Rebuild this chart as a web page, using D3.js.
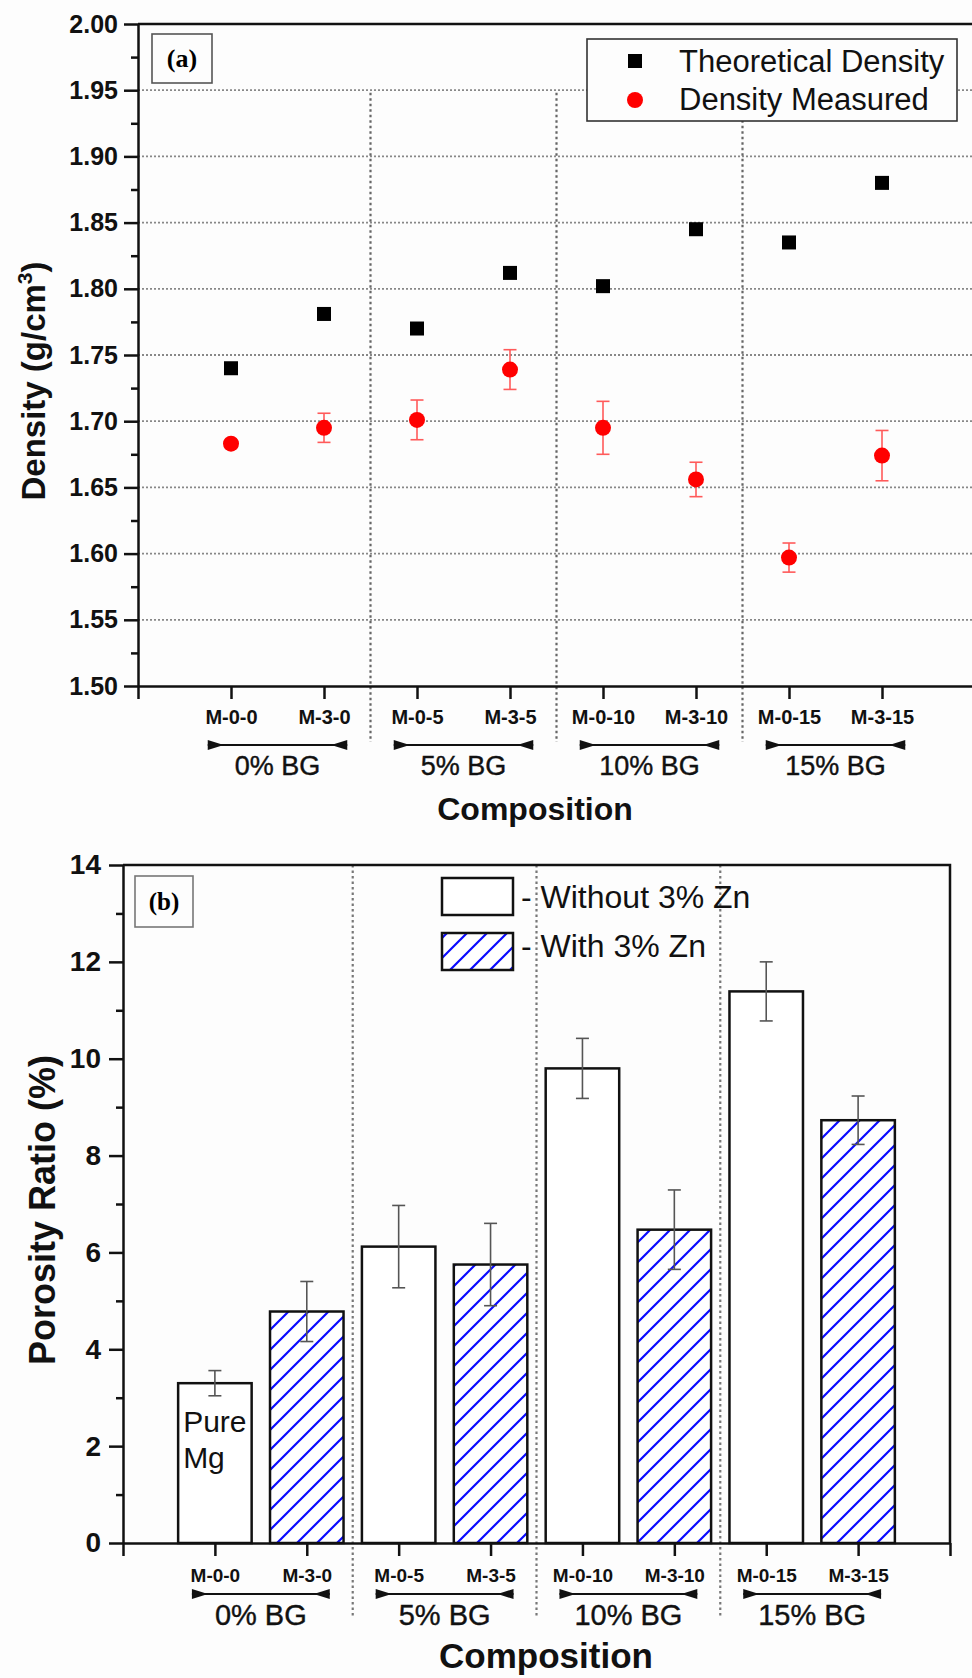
<!DOCTYPE html>
<html>
<head>
<meta charset="utf-8">
<script src="https://cdn.jsdelivr.net/npm/d3@7"></script>
<style>
  body { margin: 0; background: #fdfdfd; }
  svg { display: block; font-family: "Liberation Sans", Arial, sans-serif; }
</style>
</head>
<body>
<div id="chart"></div>
<script>
// composition labels and BG groups
const categories = ["M-0-0", "M-3-0", "M-0-5", "M-3-5", "M-0-10", "M-3-10", "M-0-15", "M-3-15"];
const groups = ["0% BG", "5% BG", "10% BG", "15% BG"];

// panel (a) - density
const theoreticalDensity = [1.740, 1.781, 1.770, 1.812, 1.802, 1.845, 1.835, 1.880];
const measuredDensity = [1.683, 1.695, 1.701, 1.739, 1.695, 1.656, 1.597, 1.674];
const measuredErr = [0.003, 0.011, 0.015, 0.015, 0.020, 0.013, 0.011, 0.019];
const densityTicks = [1.50, 1.55, 1.60, 1.65, 1.70, 1.75, 1.80, 1.85, 1.90, 1.95, 2.00];
const densityMinor = [1.525, 1.575, 1.625, 1.675, 1.725, 1.775, 1.825, 1.875, 1.925, 1.975];
const densityGrid = [1.55, 1.60, 1.65, 1.70, 1.75, 1.80, 1.85, 1.90, 1.95];

// panel (b) - porosity
const porosity = [3.30, 4.78, 6.12, 5.75, 9.80, 6.47, 11.39, 8.73];
const porosityErr = [0.26, 0.62, 0.85, 0.85, 0.62, 0.82, 0.61, 0.50];
const porosityTicks = [0, 2, 4, 6, 8, 10, 12, 14];
const porosityMinor = [1, 3, 5, 7, 9, 11, 13];

const width = 972, height = 1678;

const svg = d3.select("#chart").append("svg")
  .attr("width", width)
  .attr("height", height);

// hatch for the "with 3% Zn" bars
const pat = svg.append("defs").append("pattern")
  .attr("id", "hatch")
  .attr("patternUnits", "userSpaceOnUse")
  .attr("width", 20).attr("height", 20);
pat.append("rect").attr("width", 20).attr("height", 20).attr("fill", "#fff");
pat.append("path")
  .attr("d", "M-5,5 L5,-5 M0,20 L20,0 M15,25 L25,15")
  .attr("stroke", "#0a0aff")
  .attr("stroke-width", 2.2);

function styleAxis(g, fontSize) {
  g.select(".domain").attr("stroke", "#111").attr("stroke-width", 2.5);
  g.selectAll(".tick line").attr("stroke", "#111").attr("stroke-width", 2.5);
  g.selectAll(".tick text")
    .attr("fill", "#111")
    .style("font-size", fontSize + "px")
    .style("font-weight", "bold");
}

function drawXAxis(x, yPos, labelY, fontSize) {
  const g = svg.append("g")
    .attr("transform", "translate(0," + yPos + ")")
    .call(d3.axisBottom(x)
      .tickValues(d3.range(0, 10))
      .tickSize(13)
      .tickSizeOuter(0)
      .tickFormat(i => (i >= 1 && i <= 8) ? categories[i - 1] : ""));
  styleAxis(g, fontSize);
  g.selectAll(".tick text").attr("y", labelY).attr("dy", "0");
  return g;
}

function drawYAxis(y, xPos, major, minor, fmt, fontSize, labelX) {
  const g = svg.append("g")
    .attr("transform", "translate(" + xPos + ",0)")
    .call(d3.axisLeft(y).tickValues(major).tickSize(14).tickSizeOuter(0).tickFormat(fmt));
  styleAxis(g, fontSize);
  g.selectAll(".tick text").attr("x", labelX);
  const gm = svg.append("g")
    .attr("transform", "translate(" + xPos + ",0)")
    .call(d3.axisLeft(y).tickValues(minor).tickSize(7).tickFormat(""));
  gm.select(".domain").remove();
  gm.selectAll(".tick line").attr("stroke", "#111").attr("stroke-width", 2.5);
}

function drawGroups(x, arrowY, labelY, fontSize) {
  groups.forEach((name, gi) => {
    const x0 = x(2 * gi + 1 - 0.25), x1 = x(2 * gi + 2 + 0.25);
    svg.append("line")
      .attr("x1", x0).attr("x2", x1)
      .attr("y1", arrowY).attr("y2", arrowY)
      .attr("stroke", "#111").attr("stroke-width", 2);
    svg.append("path")
      .attr("d", "M" + x0 + "," + (arrowY - 5) + " L" + (x0 + 16) + "," + arrowY + " L" + x0 + "," + (arrowY + 5) + "Z" +
                 "M" + x1 + "," + (arrowY - 5) + " L" + (x1 - 16) + "," + arrowY + " L" + x1 + "," + (arrowY + 5) + "Z")
      .attr("fill", "#111");
    svg.append("text")
      .attr("x", (x(2 * gi + 1) + x(2 * gi + 2)) / 2)
      .attr("y", labelY)
      .attr("text-anchor", "middle")
      .style("font-size", fontSize + "px")
      .attr("fill", "#111")
      .attr("stroke", "#111").attr("stroke-width", 0.4)
      .text(name);
  });
}

function drawSeparators(x, y0, y1, color) {
  svg.append("g").selectAll("line")
    .data([2.5, 4.5, 6.5])
    .join("line")
    .attr("x1", d => x(d)).attr("x2", d => x(d))
    .attr("y1", y0).attr("y2", y1)
    .attr("stroke", color)
    .attr("stroke-width", 2.2)
    .attr("stroke-dasharray", "2.5,3");
}

// ---------------- panel (a) ----------------
function drawDensity() {
  const x = d3.scaleLinear().domain([0, 9]).range([138, 975]);
  const y = d3.scaleLinear().domain([1.5, 2.0]).range([686, 24]);

  // horizontal grid
  svg.append("g").selectAll("line")
    .data(densityGrid)
    .join("line")
    .attr("x1", x(0)).attr("x2", x(9))
    .attr("y1", d => y(d)).attr("y2", d => y(d))
    .attr("stroke", "#888")
    .attr("stroke-width", 1.8)
    .attr("stroke-dasharray", "2,2");

  drawSeparators(x, y(1.948), 742, "#666");

  // frame
  svg.append("path")
    .attr("d", "M" + x(0) + "," + y(2.0) + " H" + x(9) + " V" + y(1.5))
    .attr("fill", "none").attr("stroke", "#111").attr("stroke-width", 2.5);

  drawYAxis(y, x(0), densityTicks, densityMinor, d3.format(".2f"), 25, -20);
  drawXAxis(x, y(1.5), 38, 20);
  drawGroups(x, 745, 775, 27);

  // error bars
  const eb = svg.append("g").attr("stroke", "#ff5a5a").attr("stroke-width", 1.6);
  measuredDensity.forEach((v, i) => {
    const cx = x(i + 1), top = y(v + measuredErr[i]), bot = y(v - measuredErr[i]);
    eb.append("line").attr("x1", cx).attr("x2", cx).attr("y1", top).attr("y2", bot);
    eb.append("line").attr("x1", cx - 6.5).attr("x2", cx + 6.5).attr("y1", top).attr("y2", top);
    eb.append("line").attr("x1", cx - 6.5).attr("x2", cx + 6.5).attr("y1", bot).attr("y2", bot);
  });

  svg.append("g").selectAll("circle")
    .data(measuredDensity)
    .join("circle")
    .attr("cx", (d, i) => x(i + 1))
    .attr("cy", d => y(d))
    .attr("r", 8)
    .attr("fill", "#ff0000");

  svg.append("g").selectAll("rect")
    .data(theoreticalDensity)
    .join("rect")
    .attr("x", (d, i) => x(i + 1) - 7)
    .attr("y", d => y(d) - 7)
    .attr("width", 14).attr("height", 14)
    .attr("fill", "#000");

  // legend
  const lg = svg.append("g");
  lg.append("rect").attr("x", 587).attr("y", 39).attr("width", 370).attr("height", 82)
    .attr("fill", "#fdfdfd").attr("stroke", "#333").attr("stroke-width", 1.6);
  lg.append("rect").attr("x", 628).attr("y", 54).attr("width", 14).attr("height", 14).attr("fill", "#000");
  lg.append("circle").attr("cx", 635).attr("cy", 100).attr("r", 8).attr("fill", "#ff0000");
  lg.append("text").attr("x", 679).attr("y", 72).style("font-size", "31px").attr("fill", "#111").text("Theoretical Density");
  lg.append("text").attr("x", 679).attr("y", 110).style("font-size", "31px").attr("fill", "#111").text("Density Measured");

  // panel tag
  svg.append("rect").attr("x", 152).attr("y", 34).attr("width", 60).attr("height", 49)
    .attr("fill", "#fdfdfd").attr("stroke", "#555").attr("stroke-width", 1.6);
  svg.append("text").attr("x", 182).attr("y", 67).attr("text-anchor", "middle")
    .style("font-family", "'Liberation Serif', 'Times New Roman', serif")
    .style("font-size", "26px").style("font-weight", "bold").text("(a)");

  // axis titles
  const yl = svg.append("text")
    .attr("transform", "translate(45,381) rotate(-90)")
    .attr("text-anchor", "middle")
    .style("font-size", "33px").style("font-weight", "bold").attr("fill", "#111");
  yl.append("tspan").text("Density (g/cm");
  yl.append("tspan").attr("dy", -13).style("font-size", "21px").text("3");
  yl.append("tspan").attr("dy", 13).text(")");

  svg.append("text").attr("x", 535).attr("y", 820).attr("text-anchor", "middle")
    .style("font-size", "32px").style("font-weight", "bold").attr("fill", "#111")
    .text("Composition");
}

// ---------------- panel (b) ----------------
function drawPorosity() {
  const x = d3.scaleLinear().domain([0, 9]).range([123, 950]);
  const y = d3.scaleLinear().domain([0, 14]).range([1543, 865]);
  const bw = x(0.8) - x(0);

  drawSeparators(x, y(14), 1618, "#777");

  svg.append("g").selectAll("rect")
    .data(porosity)
    .join("rect")
    .attr("x", (d, i) => x(i + 1) - bw / 2)
    .attr("y", d => y(d))
    .attr("width", bw)
    .attr("height", d => y(0) - y(d))
    .attr("fill", (d, i) => i % 2 ? "url(#hatch)" : "#fff")
    .attr("stroke", "#111")
    .attr("stroke-width", 2.5);

  const eb = svg.append("g").attr("stroke", "#555").attr("stroke-width", 1.6);
  porosity.forEach((v, i) => {
    const cx = x(i + 1), top = y(v + porosityErr[i]), bot = y(v - porosityErr[i]);
    eb.append("line").attr("x1", cx).attr("x2", cx).attr("y1", top).attr("y2", bot);
    eb.append("line").attr("x1", cx - 6.5).attr("x2", cx + 6.5).attr("y1", top).attr("y2", top);
    eb.append("line").attr("x1", cx - 6.5).attr("x2", cx + 6.5).attr("y1", bot).attr("y2", bot);
  });

  // frame
  svg.append("path")
    .attr("d", "M" + x(0) + "," + y(14) + " H" + x(9) + " V" + y(0))
    .attr("fill", "none").attr("stroke", "#111").attr("stroke-width", 2.5);

  drawYAxis(y, x(0), porosityTicks, porosityMinor, d3.format("d"), 28, -22);
  drawXAxis(x, y(0), 39, 19);
  drawGroups(x, 1594, 1625, 29);

  // "Pure Mg" note inside first bar
  svg.append("text").attr("x", x(1) - bw / 2 + 5).attr("y", 1432)
    .style("font-size", "30px").attr("fill", "#111").text("Pure");
  svg.append("text").attr("x", x(1) - bw / 2 + 5).attr("y", 1468)
    .style("font-size", "30px").attr("fill", "#111").text("Mg");

  // legend
  svg.append("rect").attr("x", 442).attr("y", 878).attr("width", 71).attr("height", 37)
    .attr("fill", "#fff").attr("stroke", "#111").attr("stroke-width", 2.5);
  svg.append("rect").attr("x", 442).attr("y", 933).attr("width", 71).attr("height", 37)
    .attr("fill", "url(#hatch)").attr("stroke", "#111").attr("stroke-width", 2.5);
  svg.append("text").attr("x", 521).attr("y", 908).style("font-size", "32px").attr("fill", "#111").text("- Without 3% Zn");
  svg.append("text").attr("x", 521).attr("y", 957).style("font-size", "32px").attr("fill", "#111").text("- With 3% Zn");

  // panel tag
  svg.append("rect").attr("x", 135).attr("y", 876).attr("width", 58).attr("height", 51)
    .attr("fill", "#fdfdfd").attr("stroke", "#777").attr("stroke-width", 1.6);
  svg.append("text").attr("x", 164).attr("y", 910).attr("text-anchor", "middle")
    .style("font-family", "'Liberation Serif', 'Times New Roman', serif")
    .style("font-size", "25px").style("font-weight", "bold").text("(b)");

  svg.append("text")
    .attr("transform", "translate(55,1210) rotate(-90)")
    .attr("text-anchor", "middle")
    .style("font-size", "36px").style("font-weight", "bold").attr("fill", "#111")
    .text("Porosity Ratio (%)");

  svg.append("text").attr("x", 546).attr("y", 1668).attr("text-anchor", "middle")
    .style("font-size", "35px").style("font-weight", "bold").attr("fill", "#111")
    .text("Composition");
}

drawDensity();
drawPorosity();
</script>
</body>
</html>
